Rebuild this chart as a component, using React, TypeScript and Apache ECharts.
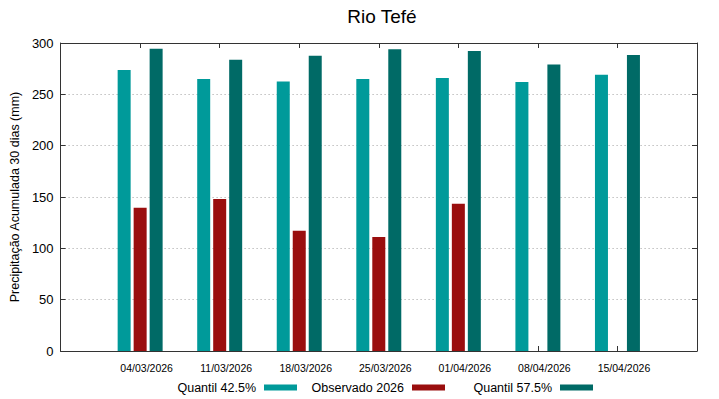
import React, { useEffect, useRef } from "react";
import * as echarts from "echarts";

const categories = ["04/03/2026", "11/03/2026", "18/03/2026", "25/03/2026", "01/04/2026", "08/04/2026", "15/04/2026"];
const quantil425 = [273.6, 264.9, 262.5, 264.9, 265.8, 261.9, 269.0];
const observado2026: (number | null)[] = [139.6, 148.0, 117.1, 111.0, 143.5, null, null];
const quantil575 = [294.4, 283.7, 287.6, 293.8, 292.2, 279.1, 288.3];
const yTicks = [0, 50, 100, 150, 200, 250, 300];

const FONT = "Liberation Sans, Arial, sans-serif";

export default function App() {
  const ref = useRef<HTMLDivElement>(null);
  useEffect(() => {
    if (!ref.current) return;
    const chart = echarts.init(ref.current, undefined, { renderer: "svg" });
    const axisCats = ["", ...categories, ""];
    const pad = (arr: (number | null)[]) => [null, ...arr, null];
    const frameColor = "#333333";
    const names = ["Quantil 42.5%", "Observado 2026", "Quantil 57.5%"];
    const colors = ["#009a9a", "#9a0e0e", "#006a66"];
    const legendRight = [422, 274, 126];
    chart.setOption({
      animation: false,
      textStyle: { fontFamily: FONT },
      title: {
        text: "Rio Tefé",
        left: 377,
        textAlign: "center",
        top: 2,
        textStyle: { fontSize: 19, fontWeight: "normal", color: "#000", fontFamily: FONT },
      },
      legend: names.map((n, i) => ({
        data: [n],
        right: legendRight[i],
        top: 381,
        padding: 0,
        align: "right",
        icon: "rect",
        itemWidth: 33,
        itemHeight: 6,
        selectedMode: false,
        textStyle: { fontSize: 12.5, color: "#000", fontFamily: FONT, padding: [0, 3, 0, 0] },
      })),
      grid: { left: 58, right: 22, top: 43, bottom: 48, containLabel: false },
      xAxis: [
        {
          type: "category",
          data: axisCats,
          boundaryGap: false,
          axisLine: { show: true, onZero: false, lineStyle: { color: frameColor, width: 1 } },
          axisTick: { show: true, inside: true, length: 5, lineStyle: { color: frameColor } },
          axisLabel: { color: "#000", fontSize: 10.5, fontFamily: FONT, margin: 11, padding: [0, 0, 0, 13], interval: 0 },
          splitLine: { show: false },
        },
        {
          type: "category",
          data: axisCats,
          boundaryGap: false,
          position: "top",
          axisLine: { show: true, onZero: false, lineStyle: { color: frameColor, width: 1 } },
          axisTick: { show: true, inside: true, length: 5, lineStyle: { color: frameColor } },
          axisLabel: { show: false },
          splitLine: { show: false },
        },
      ],
      yAxis: [
        {
          type: "value",
          min: 0,
          max: 300,
          interval: 50,
          name: "Precipitação Acumulada 30 dias (mm)",
          nameLocation: "middle",
          nameGap: 34,
          nameTextStyle: { fontSize: 12.5, color: "#000", fontFamily: FONT },
          axisLine: { show: true, onZero: false, lineStyle: { color: frameColor, width: 1 } },
          axisTick: { show: true, inside: true, length: 5, lineStyle: { color: frameColor } },
          axisLabel: { color: "#000", fontSize: 13, fontFamily: FONT, margin: 7, customValues: yTicks },
          splitLine: { show: true, lineStyle: { color: "#a0a0a0", type: [1, 3], width: 1 } },
        },
        {
          type: "value",
          min: 0,
          max: 300,
          interval: 50,
          position: "right",
          axisLine: { show: true, onZero: false, lineStyle: { color: frameColor, width: 1 } },
          axisTick: { show: true, inside: true, length: 5, lineStyle: { color: frameColor } },
          axisLabel: { show: false },
          splitLine: { show: false },
        },
      ],
      series: [
        { name: names[0], type: "bar", data: pad(quantil425), barWidth: 13, barGap: "23%", itemStyle: { color: colors[0] } },
        { name: names[1], type: "bar", data: pad(observado2026), barWidth: 13, barGap: "23%", itemStyle: { color: colors[1] } },
        { name: names[2], type: "bar", data: pad(quantil575), barWidth: 13, barGap: "23%", itemStyle: { color: colors[2] } },
      ],
    });
    return () => chart.dispose();
  }, []);
  return <div ref={ref} style={{ width: 719, height: 399, position: "absolute", left: 0, top: 0 }} />;
}
